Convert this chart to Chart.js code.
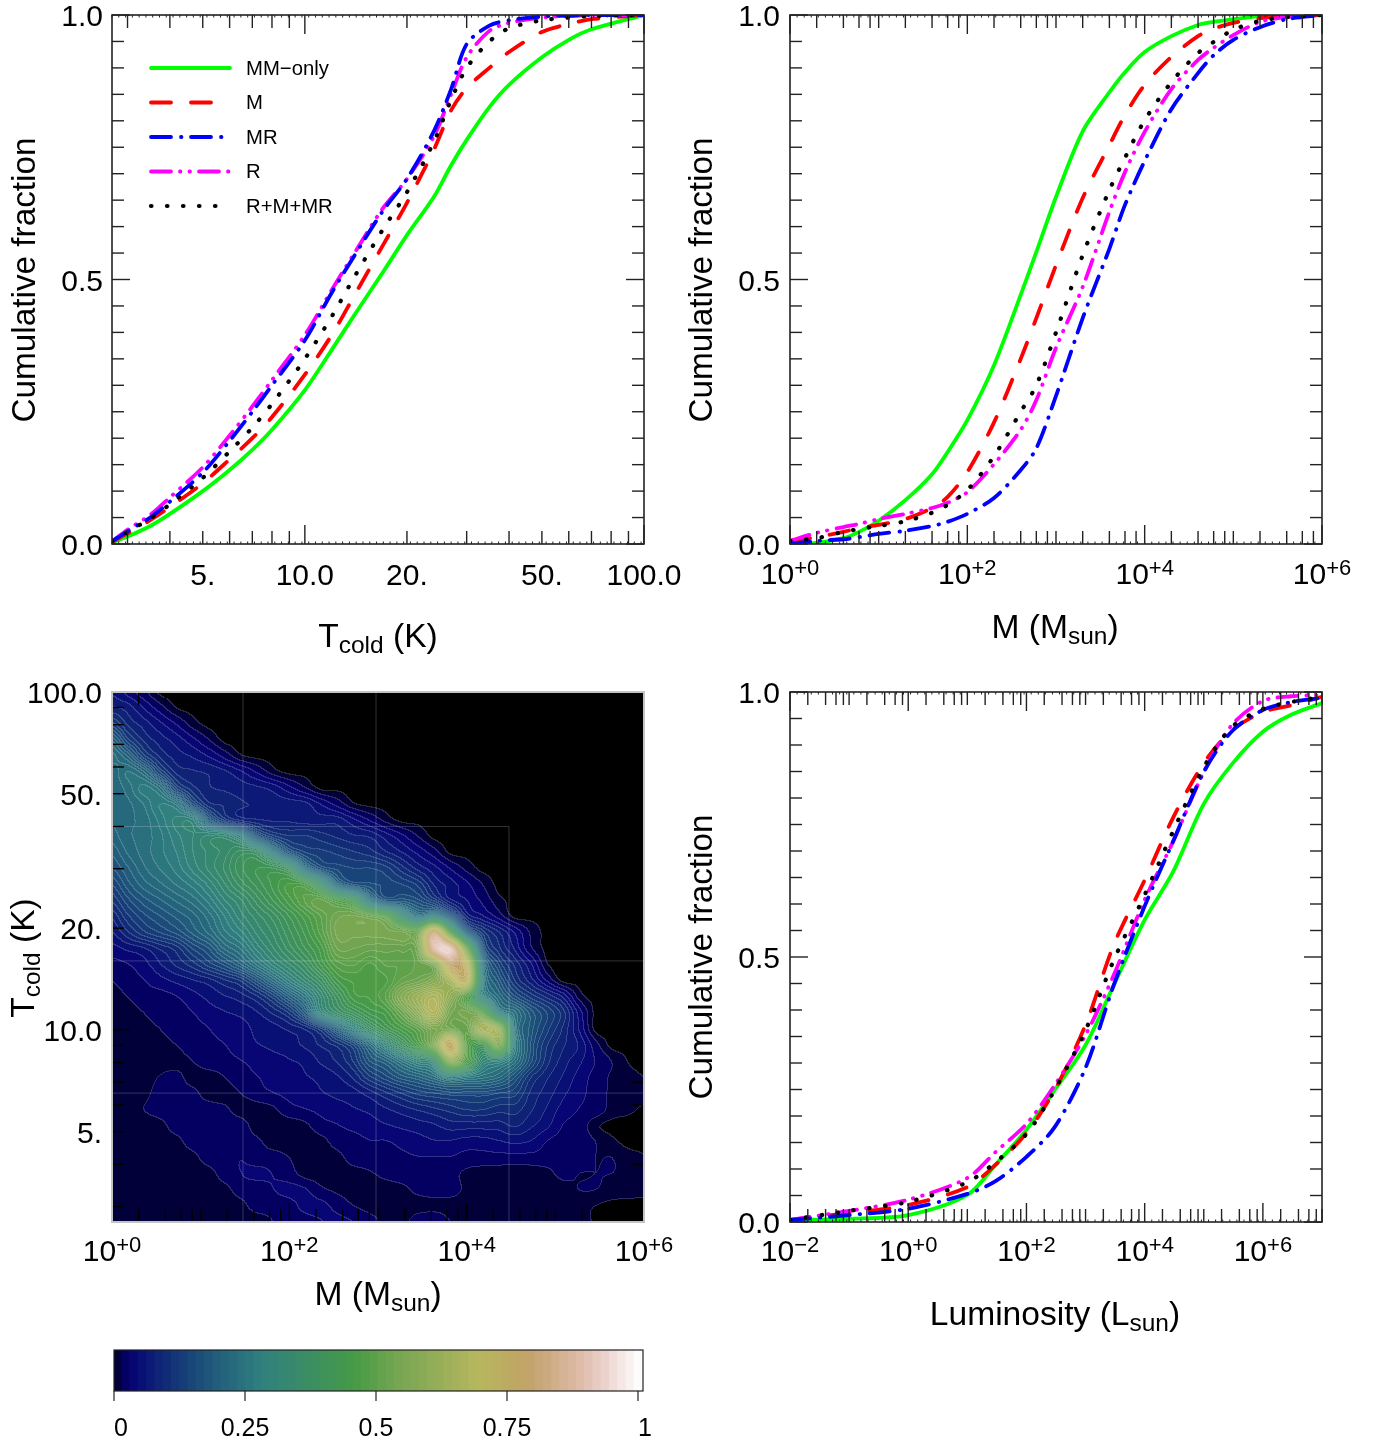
<!DOCTYPE html>
<html lang="en">
<head>
<meta charset="UTF-8">
<title>Cumulative fractions</title>
<script src="https://cdnjs.cloudflare.com/ajax/libs/Chart.js/4.4.1/chart.umd.js"></script>
<style>
body{margin:0;background:#fff}
canvas{position:absolute}
</style>
</head>
<body>
<canvas id="tempChart" style="left:0;top:0" width="688" height="670"></canvas>
<canvas id="massChart" style="left:680px;top:0" width="697" height="670"></canvas>
<canvas id="heatChart" style="left:0;top:670px" width="688" height="670"></canvas>
<canvas id="lumChart" style="left:680px;top:670px" width="697" height="680"></canvas>
<canvas id="barChart" style="left:100px;top:1340px" width="570" height="100"></canvas>
<script>
var FONT = '"Liberation Sans"';
var names = ['MM\u2212only', 'M', 'MR', 'R', 'R+M+MR'];

// Tcold panel
var tempValues = [2.7,3,3.5,4,5,6,7,8,10,12,14,17,20,24,27,30,35,40,50,60,70,100];
var tempMM = [.003,.014,.034,.057,.10,.14,.178,.216,.291,.367,.433,.514,.584,.656,.716,.764,.826,.868,.92,.953,.973,1];
var tempM = [.004,.02,.045,.07,.115,.16,.2,.24,.32,.395,.47,.565,.645,.745,.82,.862,.9,.93,.968,.983,.992,1];
var tempMR = [.005,.024,.05,.08,.135,.195,.25,.3,.385,.475,.545,.63,.69,.78,.86,.945,.98,.99,.997,.999,1,1];
var tempR = [.005,.027,.055,.088,.145,.205,.26,.31,.395,.48,.55,.635,.69,.77,.85,.92,.97,.985,.995,.998,1,1];
var tempAll = [.005,.023,.048,.075,.125,.175,.22,.265,.35,.43,.505,.595,.665,.76,.84,.9,.95,.975,.99,.995,.998,1];

// mass panel
var massValues = [1,2,4,6,10,20,40,60,100,200,400,600,1e3,2e3,4e3,6e3,1e4,2e4,4e4,6e4,1e5,2e5,4e5,1e6];
var massMM = [0,.002,.011,.023,.044,.083,.132,.174,.234,.338,.471,.552,.656,.78,.854,.892,.93,.96,.981,.987,.992,.998,.999,1];
var massM = [.006,.013,.023,.03,.036,.047,.068,.089,.136,.23,.35,.427,.527,.654,.754,.811,.868,.921,.96,.974,.985,.994,.998,1];
var massMR = [0,.006,.009,.013,.019,.025,.034,.042,.057,.087,.14,.181,.28,.427,.558,.641,.724,.822,.89,.924,.953,.977,.992,1];
var massR = [.006,.021,.032,.038,.047,.057,.068,.078,.098,.151,.216,.272,.371,.486,.628,.703,.779,.86,.915,.938,.962,.987,.996,1];
var massAll = [.006,.011,.023,.028,.034,.043,.059,.074,.102,.166,.25,.3,.4,.546,.669,.73,.801,.873,.928,.949,.972,.989,.996,1];

// luminosity panel
var lumValues = [1e-2,1e-1,1,10,30,100,300,1e3,3e3,1e4,3e4,1e5,3e5,1e6,3e6,1e7];
var lumMM = [.004,.006,.013,.051,.108,.174,.249,.334,.447,.57,.66,.789,.864,.925,.957,.979];
var lumM = [.004,.017,.032,.066,.108,.168,.249,.372,.523,.645,.762,.866,.928,.962,.975,.991];
var lumMR = [.004,.013,.025,.053,.077,.123,.179,.291,.447,.596,.717,.849,.926,.966,.981,.989];
var lumR = [.004,.021,.042,.083,.132,.185,.258,.353,.466,.608,.717,.849,.938,.983,.992,.994];
var lumAll = [.004,.021,.038,.075,.113,.166,.249,.362,.494,.617,.736,.858,.934,.968,.981,.991];

// tick labels
var fracTicks = [0,.5,1];
var fracLabels = ['0.0','0.5','1.0'];
var tempTicks = [5,10,20,50,100];
var tempLabels = ['5.','10.0','20.','50.','100.0'];
var massExps = [0,2,4,6];
var massSups = ['+0','+2','+4','+6'];
var lumExps = [-2,0,2,4,6];
var lumSups = ['\u22122','+0','+2','+4','+6'];
var barTicks = [0,.25,.5,.75,1];
var barLabels = ['0','0.25','0.5','0.75','1'];

var heatMassExp = [];
for (var i = 0; i < 34; i++) heatMassExp.push(i * 6 / 33);
var heatTempLog = [];
for (var j = 0; j < 34; j++) heatTempLog.push(2 - j * (2 - Math.log10(2.7)) / 33);
var heatRows = [
[6,4,2],
[8,7,4.5,2.2,.3],
[13,9,7,5,3,.9],
[20,13,9,7,5.5,3.6,1.6],
[24,20,13,9,7,6,4.5,2.5,.5],
[22,25,22,14,9,8,7.5,6.5,4.9,2.9,.9],
[22,24,27,24,14,10,8,7.5,7,6.5,5.6,3.6,1.6],
[23,23,25,28,26,16,10,9,8,7.5,7,7,6.6,4.5,2.5,.5],
[22,23,24,27,30,30,19,12,9,8,7.5,7.5,7,7,7,5,3,1.1],
[21,23,24,26,29,31,33,33,28,18,13,11,11,10,9,8,7.5,5.5,3.5,1.5],
[19,22,24,26,28,31,33,35,38,37,27,18,14,13,12,11,10,8,6.2,4.2,2.2,.1],
[17,20,23,25,27,30,33,36,40,42,42,38,24,17,15,14,14,13,10,7.2,5.2,3,1.1],
[14,18,21,23,25,27,30,34,38,41,44,47,46,36,22,17,16,15,14,12,7.6,5.5,3.5,1.5],
[11,15,18,20,22,24,27,31,34,38,42,46,50,52,47,42,26,18,18,16,12,6.7,4.7,2.7,.7],
[8,12,15,17,19,21,24,28,32,35,38,42,46,50,54,55,53,49,35,26,30,20,8,5,2.5],
[6,9,12,14,16,19,22,26,29,33,36,40,44,49,55,55,55,55,55,55,82,50,22,12,8,4.5,1.3],
[4,5,6,8,10,14,17,22,25,30,34,38,42,46,53,53,52,52,52,55,88,92,55,18,10,6,1.8],
[2.5,3,4,6,8,10,13,16,20,25,30,34,38,44,49,50,48,50,50,52,56,78,72,26,14,9,5,.5],
[1.5,2.5,3,4,5,6,7,9,11,16,22,28,33,38,45,47,47,48,52,54,58,66,72,28,18,11,7,3],
[.7,1.5,2.5,2.5,3,4,5,6,7,9,13,19,25,33,40,46,47,50,58,64,68,60,48,30,22,16,12,9,6,1],
[.7,.7,1.5,2.5,2.5,3,4,4.5,5,6,8,11,18,30,36,40,44,46,52,60,68,55,55,50,30,24,18,14,10,4],
[.7,.7,.7,1.5,2.5,2.5,3,4,4,5,5.5,6.5,8,12,20,28,36,42,46,50,56,55,52,66,62,26,18,13,9,4.5],
[.7,.7,.7,.8,1.5,2.5,2.5,3,4,4.5,5,5.5,6.5,8,10,14,22,30,38,46,56,78,50,42,55,28,17,11,8,6,2.2],
[.7,.7,.7,.8,.8,1.5,2.5,2.5,3,3.5,4,4.5,5,6.5,8,11,17,20,25,30,34,58,48,32,30,24,16,10,7,5,3,1.5,.3],
[.7,.7,.7,1.6,2,.8,.7,1.5,2.5,3,3.5,4,4.5,5,6,8,12,15,18,20,23,28,26,24,22,17,11,8,6,4,2.5,1.3,.7,.3],
[.6,.6,1,2.2,2.2,2,.8,.7,1.5,2.5,3,3.5,4,4.5,5,5.5,7,9,11,13,14,15,15,15,14,13,9,7,5,3.5,2.5,1.2,.8,.5],
[.6,.6,1.5,2.2,2.2,2.2,2.2,1.8,.8,.7,1.2,2.5,3,3.5,4,4.5,5,6,7,8,9,10,11,11,10,10,8,6,4,3,2.5,1,.5,.2],
[.6,.6,.6,1,2.2,2.2,2.2,2.2,2.2,.8,.7,.7,1.2,2.5,3,3.5,4,4.5,5,5.5,6,7,7,7,7,8,6.5,5,3,2.5,.6],
[.5,.5,.5,.6,1,2.2,2.2,2.2,2.2,1.8,.8,.7,.7,1,2.2,2.5,3,3,3.5,4,4.5,4.5,4,4,4.5,5,4.5,3,2.5,2.5,1.5,.6],
[.5,.5,.5,.5,.6,1,2.2,2.2,3,2.2,2.2,1.5,.7,.7,1,2.2,2.5,2.5,2.8,3,3,3,2.5,2.5,2.5,2.5,2.5,2.5,2.5,2.5,1.5,1.5,.8,.4],
[.5,.5,.5,.5,.5,.6,.9,2.2,3,3.5,3,2.2,.9,.7,.7,.9,1.3,2,2.5,2.5,2.5,2,1.2,.8,.7,.7,.7,1,2,1.5,1.5,1.5,1.2,.8],
[.5,.5,.5,.5,.5,.5,.6,1,2.2,2.2,3,3.5,3.2,1.8,1.2,.8,.7,.7,1,2,2.5,2.2,1.2,.7,.7,.7,.7,.7,.8,1.5,1.5,1,.8,.6],
[.5,.5,.5,.5,.5,.5,.5,.6,1,2.2,2.2,2.5,3.5,3.5,2.5,1.5,1,.8,.7,.7,.8,.8,.7,.7,.7,.7,.7,.6,.6,.7,.3],
[.5,.5,.5,.5,.5,.5,.5,.5,.5,.6,1.5,2.2,2.5,3,3.5,3,2,1.2,.8,2.5,3,1.5,.8,.7,.7,.7,.7,.6,.6,.6,.2]
];
// faint tile seams in the map
var seamMass = [30,950,30000];
var seamTemp = [40,16,6.5];

// gist_earth colour table
var cmapR = [[0,0],[.2824,.1882],[.4588,.2714],[.549,.4719],[.698,.7176],[.7882,.7553],[1,.9922]];
var cmapG = [[0,0],[.0275,0],[.1098,.1893],[.1647,.3035],[.2078,.3841],[.2824,.502],[.5216,.6397],[.698,.7171],[.7882,.6392],[.8157,.6549],[.898,.743],[.9412,.8275],[1,.9843]];
var cmapB = [[0,0],[.0039,.1684],[.0078,.2212],[.0275,.4329],[.0314,.4549],[.2824,.5004],[.4667,.2748],[.5451,.3205],[.7843,.3961],[.8941,.6651],[1,.9843]];

function channel(tab, t) {
    for (var k = 1; k < tab.length; k++) {
        if (t <= tab[k][0]) {
            var a = tab[k-1], b = tab[k];
            return a[1] + (b[1]-a[1]) * (t-a[0]) / (b[0]-a[0]);
        }
    }
    return tab[tab.length-1][1];
}
function cmap(t) {
    return [channel(cmapR,t)*255, channel(cmapG,t)*255, channel(cmapB,t)*255];
}

function decadeTicks(lo, hi, steps) {
    var out = [];
    for (var e = lo; e < hi; e++) {
        steps.forEach(function (s) { out.push(s * Math.pow(10, e)); });
    }
    return out;
}
function fineTicks(lo, hi, step) {
    var out = [];
    for (var e = lo; e < hi; e += step) out.push(Math.pow(10, e));
    return out;
}

// mixed size text, used for sub and superscripts
function drawRich(ctx, parts, x, y, rotate) {
    ctx.save();
    ctx.translate(x, y);
    if (rotate) ctx.rotate(-Math.PI / 2);
    ctx.textAlign = 'left';
    ctx.textBaseline = 'alphabetic';
    ctx.fillStyle = '#000';
    var total = 0;
    parts.forEach(function (p) {
        ctx.font = p[1] + 'px ' + FONT;
        total += ctx.measureText(p[0]).width;
    });
    var cx = -total / 2;
    parts.forEach(function (p) {
        ctx.font = p[1] + 'px ' + FONT;
        ctx.fillText(p[0], cx, p[2] || 0);
        cx += ctx.measureText(p[0]).width;
    });
    ctx.restore();
}

function stroke(ctx, x1, y1, x2, y2) {
    ctx.beginPath();
    ctx.moveTo(x1, y1);
    ctx.lineTo(x2, y2);
    ctx.stroke();
}

function framePlugin(spec) {
    return {
        id: 'frame',
        afterDatasetsDraw: function (chart) {
            var ctx = chart.ctx, a = chart.chartArea;
            var sx = chart.scales.x, sy = chart.scales.y;
            ctx.save();
            function xTick(v, len) {
                var p = sx.getPixelForValue(v);
                stroke(ctx, p, a.bottom, p, a.bottom - len);
                stroke(ctx, p, a.top, p, a.top + len);
            }
            function yTick(v, len) {
                var p = sy.getPixelForValue(v);
                stroke(ctx, a.left, p, a.left + len, p);
                stroke(ctx, a.right, p, a.right - len, p);
            }
            ctx.strokeStyle = spec.tickColor || '#222';
            ctx.lineWidth = 1;
            spec.xFine.forEach(function (v) { xTick(v, 2.5); });
            ctx.lineWidth = 1.4;
            spec.xMinor.forEach(function (v) { xTick(v, 13); });
            spec.xMajor.forEach(function (v) { xTick(v, 19); });
            spec.yMinor.forEach(function (v) { yTick(v, 12); });
            spec.yMajor.forEach(function (v) { yTick(v, 18); });
            ctx.strokeStyle = spec.frameColor || '#222';
            ctx.lineWidth = spec.frameWidth || 1.6;
            ctx.strokeRect(a.left, a.top, a.right - a.left, a.bottom - a.top);
            ctx.restore();
        },
        afterDraw: function (chart) {
            var ctx = chart.ctx, a = chart.chartArea;
            var sx = chart.scales.x, sy = chart.scales.y;
            ctx.save();
            ctx.fillStyle = '#000';
            ctx.font = '30px ' + FONT;
            ctx.textAlign = 'right';
            ctx.textBaseline = 'alphabetic';
            spec.yTicks.forEach(function (v, i) {
                ctx.fillText(spec.yLabels[i], a.left - spec.yGap, sy.getPixelForValue(v) + 11);
            });
            ctx.textAlign = 'center';
            if (spec.xLabels) {
                spec.xTicks.forEach(function (v, i) {
                    ctx.fillText(spec.xLabels[i], sx.getPixelForValue(v), a.bottom + 41);
                });
            } else {
                spec.xExps.forEach(function (e, i) {
                    drawRich(ctx, [['10', 30], [spec.xSups[i], 22, -9]], sx.getPixelForValue(Math.pow(10, e)), a.bottom + spec.supBase);
                });
            }
            drawRich(ctx, spec.xTitle, spec.xTitleX, spec.xTitleY, false);
            drawRich(ctx, spec.yTitle, spec.yTitleX, spec.yTitleY, true);
            ctx.restore();
        }
    };
}

var legendPlugin = {
    id: 'cornerLegend',
    afterDraw: function (chart) {
        var ctx = chart.ctx;
        var rows = [68,102.5,137,171.5,206];
        ctx.save();
        chart.data.datasets.forEach(function (d, i) {
            ctx.strokeStyle = d.borderColor;
            ctx.lineWidth = d.borderWidth;
            ctx.lineCap = 'round';
            ctx.setLineDash(d.borderDash || []);
            stroke(ctx, 151, rows[i], 230, rows[i]);
            ctx.setLineDash([]);
            ctx.fillStyle = '#000';
            ctx.font = '20.3px ' + FONT;
            ctx.textAlign = 'left';
            ctx.textBaseline = 'middle';
            ctx.fillText(d.label, 246, rows[i] + 1);
        });
        ctx.restore();
    }
};

function seriesSets(xs, lists) {
    var colors = ['#00ff00','#ff0000','#0000ff','#ff00ff','#000000'];
    var dashes = [[], [20,20], [20,10,.5,9.5], [20,9,.5,9,.5,9], [.5,15.5]];
    var orders = [4,3,1,2,0];
    return lists.map(function (ys, k) {
        return {
            label: names[k],
            data: xs.map(function (x, n) { return {x: x, y: ys[n]}; }),
            borderColor: colors[k],
            borderWidth: k === 4 ? 4.2 : 3.8,
            borderDash: dashes[k],
            borderCapStyle: 'round',
            tension: .3,
            pointRadius: 0,
            order: orders[k],
            fill: false
        };
    });
}

function baseOptions(canvas, box, xMin, xMax, yType, yMin, yMax) {
    return {
        responsive: false,
        animation: false,
        devicePixelRatio: 1,
        layout: {padding: {left: 0, top: box.top, right: canvas.width - box.right, bottom: 0}},
        plugins: {legend: {display: false}, tooltip: {enabled: false}},
        scales: {
            x: {type: 'logarithmic', min: xMin, max: xMax, grid: {display: false}, border: {display: false}, ticks: {display: false},
                afterFit: function (s) { s.height = canvas.height - box.bottom; }},
            y: {type: yType, min: yMin, max: yMax, grid: {display: false}, border: {display: false}, ticks: {display: false},
                afterFit: function (s) { s.width = box.left; }}
        }
    };
}

var cumTitle = [['Cumulative fraction', 33.3]];
var fracMinor = [.05,.1,.15,.2,.25,.3,.35,.4,.45,.55,.6,.65,.7,.75,.8,.85,.9,.95];
var massMinor = decadeTicks(0, 6, [2,4,6,8]).concat([10,1e3,1e5]);

// T panel
var c1 = document.getElementById('tempChart');
new Chart(c1, {
    type: 'line',
    data: {datasets: seriesSets(tempValues, [tempMM, tempM, tempMR, tempR, tempAll])},
    options: baseOptions(c1, {left:112,right:644,top:15,bottom:544}, 2.7, 100, 'linear', 0, 1),
    plugins: [legendPlugin, framePlugin({
        xFine: fineTicks(Math.log10(2.7), 2, .02),
        xMinor: [3,4,5,6,7,8,9,20,30,40,50,60,70,80,90],
        xMajor: [10,100],
        yMinor: fracMinor, yMajor: fracTicks,
        yTicks: fracTicks, yLabels: fracLabels, yGap: 9,
        xTicks: tempTicks, xLabels: tempLabels,
        xTitle: [['T',33.6],['cold',24.5,6],[' (K)',33.6]], xTitleX: 378, xTitleY: 647,
        yTitle: cumTitle, yTitleX: 35, yTitleY: 280
    })]
});

// M panel
var c2 = document.getElementById('massChart');
new Chart(c2, {
    type: 'line',
    data: {datasets: seriesSets(massValues, [massMM, massM, massMR, massR, massAll])},
    options: baseOptions(c2, {left:110,right:642,top:15,bottom:544}, 1, 1e6, 'linear', 0, 1),
    plugins: [framePlugin({
        xFine: fineTicks(0, 6, .08),
        xMinor: massMinor, xMajor: [1,100,1e4,1e6],
        yMinor: fracMinor, yMajor: fracTicks,
        yTicks: fracTicks, yLabels: fracLabels, yGap: 10,
        xExps: massExps, xSups: massSups, supBase: 40,
        xTitle: [['M (M',33.6],['sun',24.5,6],[')',33.6]], xTitleX: 375, xTitleY: 638,
        yTitle: cumTitle, yTitleX: 32, yTitleY: 280
    })]
});

// density map panel
var heatPlugin = {
    id: 'heat',
    beforeDatasetsDraw: function (chart) {
        var ctx = chart.ctx, a = chart.chartArea;
        var sx = chart.scales.x, sy = chart.scales.y;
        var w = Math.round(a.right - a.left), h = Math.round(a.bottom - a.top);
        var nx = heatMassExp.length, ny = heatTempLog.length;
        function cubic(p0, p1, p2, p3, u) {
            return p1 + .5*u*(p2-p0 + u*(2*p0-5*p1+4*p2-p3 + u*(3*(p1-p2)+p3-p0)));
        }
        function cell(r, c) {
            r = Math.max(0, Math.min(ny-1, r));
            c = Math.max(0, Math.min(nx-1, c));
            return (heatRows[r][c] || 0) / 100;
        }
        // value at each pixel column, for each data row
        var across = [];
        for (var r = 0; r < ny; r++) {
            var line = new Float32Array(w);
            for (var px = 0; px < w; px++) {
                var e = Math.log10(sx.getValueForPixel(a.left + px + .5));
                var f = (e - heatMassExp[0]) / (heatMassExp[1] - heatMassExp[0]);
                var c0 = Math.floor(f);
                line[px] = cubic(cell(r,c0-1), cell(r,c0), cell(r,c0+1), cell(r,c0+2), f-c0);
            }
            across.push(line);
        }
        function rowLine(r) { return across[Math.max(0, Math.min(ny-1, r))]; }
        var levels = new Int16Array(w * h);
        for (var py = 0; py < h; py++) {
            var t = Math.log10(sy.getValueForPixel(a.top + py + .5));
            var g = (t - heatTempLog[0]) / (heatTempLog[1] - heatTempLog[0]);
            var r0 = Math.floor(g);
            var l0 = rowLine(r0-1), l1 = rowLine(r0), l2 = rowLine(r0+1), l3 = rowLine(r0+2);
            for (var qx = 0; qx < w; qx++) {
                var v = cubic(l0[qx], l1[qx], l2[qx], l3[qx], g-r0);
                levels[py*w+qx] = v < .003 ? 0 : v < .015 ? 1 : 2 + Math.floor((v-.015)/.0156);
            }
        }
        var img = ctx.createImageData(w, h);
        for (var m = 0; m < w*h; m++) {
            var lv = levels[m];
            var col = lv === 0 ? [0,0,0] : lv === 1 ? cmap(.008) : cmap(Math.min(1, .015 + (lv-1.5)*.0156));
            var right = (m+1) % w ? levels[m+1] : lv;
            var below = m+w < w*h ? levels[m+w] : lv;
            var edge = right !== lv || below !== lv;
            var mix = edge ? .17 : 0;
            img.data[m*4] = col[0] + (255-col[0])*mix;
            img.data[m*4+1] = col[1] + (255-col[1])*mix;
            img.data[m*4+2] = col[2] + (255-col[2])*mix;
            img.data[m*4+3] = 255;
        }
        ctx.putImageData(img, Math.round(a.left), Math.round(a.top));
    }
};

function seamSets() {
    var style = {borderColor: 'rgba(255,255,255,.2)', borderWidth: 1, pointRadius: 0, fill: false};
    var sets = [];
    seamMass.forEach(function (m, n) {
        sets.push(Object.assign({data: [{x: m, y: 2.7}, {x: m, y: n === 2 ? seamTemp[0] : 100}]}, style));
    });
    seamTemp.forEach(function (t, n) {
        sets.push(Object.assign({data: [{x: 1, y: t}, {x: n === 0 ? seamMass[2] : 1e6, y: t}]}, style));
    });
    return sets;
}

var c3 = document.getElementById('heatChart');
new Chart(c3, {
    type: 'line',
    data: {datasets: seamSets()},
    options: baseOptions(c3, {left:112,right:644,top:22,bottom:552}, 1, 1e6, 'logarithmic', 2.7, 100),
    plugins: [heatPlugin, framePlugin({
        xFine: [],
        xMinor: massMinor, xMajor: [1,100,1e4,1e6],
        yMinor: [3,4,5,6,7,8,9,20,30,40,50,60,70,80,90], yMajor: [10,100],
        tickColor: '#000', frameColor: '#c4c4c4', frameWidth: 2,
        yTicks: [5,10,20,50,100], yLabels: tempLabels, yGap: 10,
        xExps: massExps, xSups: massSups, supBase: 39,
        xTitle: [['M (M',33.6],['sun',24.5,6],[')',33.6]], xTitleX: 378, xTitleY: 635,
        yTitle: [['T',33.6],['cold',24.5,6],[' (K)',33.6]], yTitleX: 34, yTitleY: 288
    })]
});

// luminosity panel
var c4 = document.getElementById('lumChart');
new Chart(c4, {
    type: 'line',
    data: {datasets: seriesSets(lumValues, [lumMM, lumM, lumMR, lumR, lumAll])},
    options: baseOptions(c4, {left:110,right:642,top:22,bottom:552}, 1e-2, 1e7, 'linear', 0, 1),
    plugins: [framePlugin({
        xFine: fineTicks(-2, 7, .12),
        xMinor: decadeTicks(-2, 7, [2,4,6,8]).concat([.1,10,1e3,1e5,1e7]),
        xMajor: [1e-2,1,100,1e4,1e6],
        yMinor: fracMinor, yMajor: fracTicks,
        yTicks: fracTicks, yLabels: fracLabels, yGap: 10,
        xExps: lumExps, xSups: lumSups, supBase: 39,
        xTitle: [['Luminosity (L',33.6],['sun',24.5,6],[')',33.6]], xTitleX: 375, xTitleY: 655,
        yTitle: cumTitle, yTitleX: 32, yTitleY: 287
    })]
});

// colour bar
var barSteps = [];
var barMax = (643 - 114) / 524;
for (var s = 0; s < 64; s++) barSteps.push((s + .5) / 64 * barMax);
var c5 = document.getElementById('barChart');
new Chart(c5, {
    type: 'bar',
    data: {datasets: [{
        data: barSteps.map(function (v) { return {x: v, y: 1}; }),
        backgroundColor: barSteps.map(function (v) {
            var c = cmap(Math.min(1, v));
            return 'rgb(' + Math.round(c[0]) + ',' + Math.round(c[1]) + ',' + Math.round(c[2]) + ')';
        }),
        borderWidth: 0,
        barPercentage: 1.25,
        categoryPercentage: 1
    }]},
    options: {
        responsive: false,
        animation: false,
        devicePixelRatio: 1,
        layout: {padding: {left: 0, top: 10, right: 27, bottom: 0}},
        plugins: {legend: {display: false}, tooltip: {enabled: false}},
        scales: {
            x: {type: 'linear', min: 0, max: barMax, offset: false, grid: {display: false}, border: {display: false}, ticks: {display: false},
                afterFit: function (s) { s.height = 49; }},
            y: {min: 0, max: 1, grid: {display: false}, border: {display: false}, ticks: {display: false},
                afterFit: function (s) { s.width = 14; }}
        }
    },
    plugins: [{
        id: 'barFrame',
        afterDraw: function (chart) {
            var ctx = chart.ctx, a = chart.chartArea, sx = chart.scales.x;
            ctx.save();
            ctx.strokeStyle = '#222';
            ctx.lineWidth = 1.2;
            ctx.strokeRect(a.left, a.top, a.right - a.left, a.bottom - a.top);
            ctx.fillStyle = '#000';
            ctx.font = '25px ' + FONT;
            ctx.textBaseline = 'alphabetic';
            barTicks.forEach(function (v, i) {
                var p = sx.getPixelForValue(v);
                stroke(ctx, p, a.bottom, p, a.bottom + 10);
                ctx.textAlign = (i === 0 || i === 4) ? 'left' : 'center';
                ctx.fillText(barLabels[i], p, a.bottom + 45);
            });
            ctx.restore();
        }
    }]
});
</script>
</body>
</html>
